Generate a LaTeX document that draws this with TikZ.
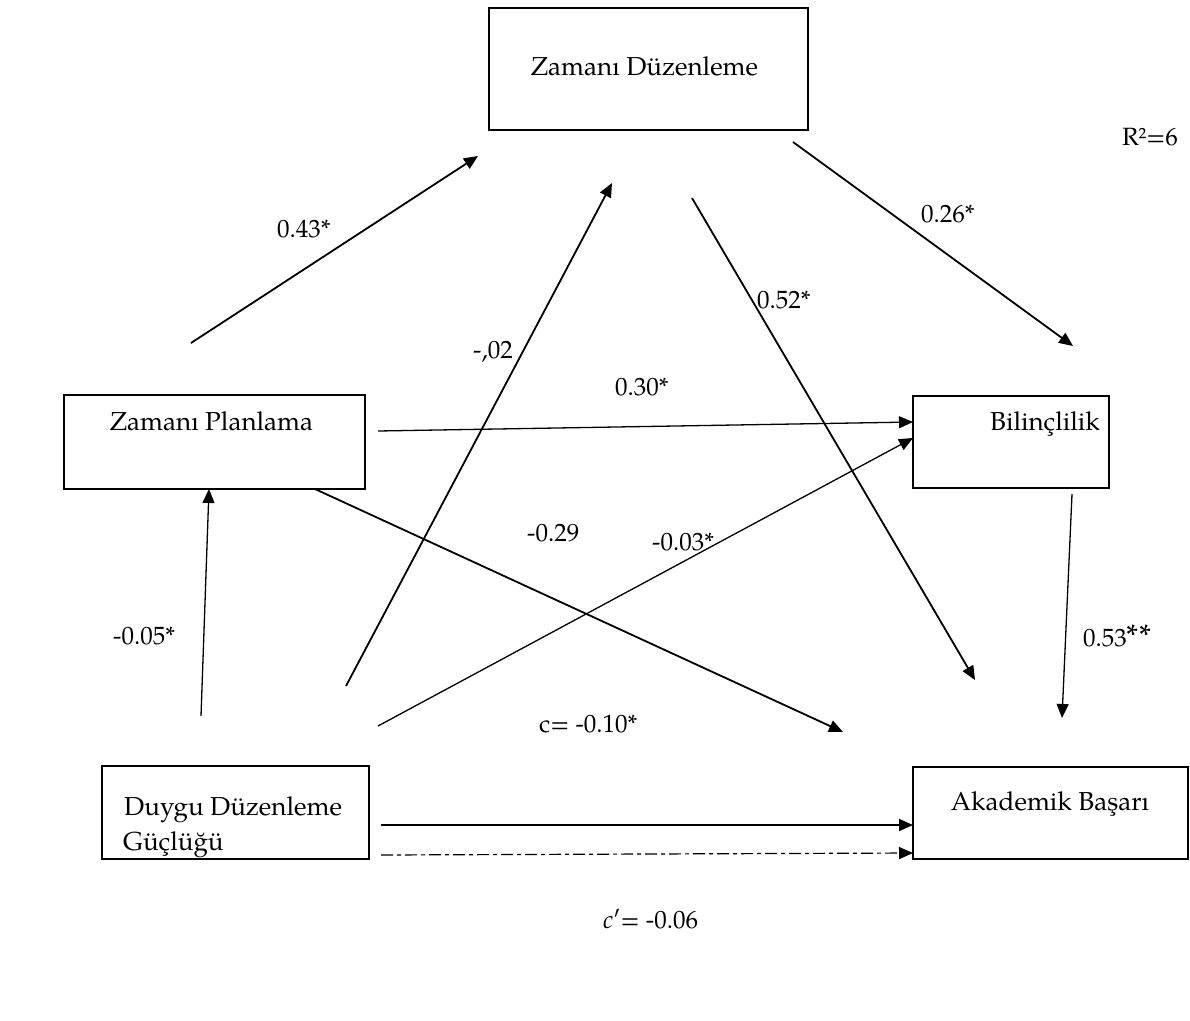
\documentclass[tikz,border=0pt]{standalone}
\usepackage{fontspec}
\setmainfont{TeX Gyre Pagella}
\usetikzlibrary{arrows.meta}
\begin{document}
\begin{tikzpicture}[x=1pt,y=-1pt,
  box/.style={draw, line width=1.8pt, inner sep=0pt},
  txt/.style={font=\fontsize{26}{31}\selectfont, inner sep=0pt},
  lbl/.style={font=\fontsize{25}{30}\selectfont, inner sep=0pt},
  tip/.style={-{Triangle[length=14pt,width=12pt]}},
  arr/.style={tip, line width=1.8pt},
  thinarr/.style={tip, line width=1.3pt},
  dashdot/.style={tip, line width=1.2pt, dash pattern=on 12pt off 4pt on 4pt off 4pt}]
\fill[white] (0,0) rectangle (1190,1020);
\useasboundingbox (0,0) rectangle (1190,1020);

% boxes
\node[box, minimum width=319pt, minimum height=122pt] (zd) at (648.5,69) {};
\node[box, minimum width=301pt, minimum height=94pt] (zp) at (214.5,442) {};
\node[box, minimum width=196pt, minimum height=92pt] (bil) at (1011,442) {};
\node[box, minimum width=267pt, minimum height=93pt] (ddg) at (235.5,812.5) {};
\node[box, minimum width=275pt, minimum height=92pt] (ab) at (1050.5,813) {};

% box texts
\node[txt, anchor=base] (zdt) at (644.5,75) {Zamanı Düzenleme};
\node[txt, anchor=base] (zpt) at (211.5,430) {Zamanı Planlama};
\node[txt, anchor=base west] (bilt) at (990,430) {Bilinçlilik};
\node[txt, anchor=base west] (ddgt1) at (124,815) {Duygu Düzenleme};
\node[txt, anchor=base west] (ddgt2) at (123,850) {Güçlüğü};
\node[txt, anchor=base] (abt) at (1050,810) {Akademik Başarı};

% endpoints
\coordinate (a1s) at (191,343);  \coordinate (a1e) at (478,156);
\coordinate (a2s) at (346,686);  \coordinate (a2e) at (612,183);
\coordinate (a3s) at (692,198);  \coordinate (a3e) at (975,680);
\coordinate (a4s) at (793,142);  \coordinate (a4e) at (1073,346);
\coordinate (a5s) at (378,431);  \coordinate (a5e) at (913,422);
\coordinate (a6s) at (378,726);  \coordinate (a6e) at (913,438);
\coordinate (a7s) at (315,489);  \coordinate (a7e) at (843,732);
\coordinate (a8s) at (201,716);  \coordinate (a8e) at (209,489);
\coordinate (a9s) at (1072,494); \coordinate (a9e) at (1062,718);
\coordinate (a10s) at (381,825); \coordinate (a10e) at (913,825);
\coordinate (a11s) at (381,855); \coordinate (a11e) at (913,853);

% connectors
\draw[arr] (a1s) -- (a1e);
\draw[arr] (a2s) -- (a2e);
\draw[arr] (a3s) -- (a3e);
\draw[arr] (a4s) -- (a4e);
\draw[thinarr] (a5s) -- (a5e);
\draw[thinarr] (a6s) -- (a6e);
\draw[arr] (a7s) -- (a7e);
\draw[thinarr] (a8s) -- (a8e);
\draw[thinarr] (a9s) -- (a9e);
\draw[arr] (a10s) -- (a10e);
\draw[dashdot] (a11s) -- (a11e);

% labels
\node[lbl, anchor=base west] (l1) at (277,237) {0.43*};
\node[lbl, anchor=base west] (l2) at (1122,145) {R²=6};
\node[lbl, anchor=base west] (l3) at (921,222) {0.26*};
\node[lbl, anchor=base west] (l4) at (757,308) {0.52*};
\node[lbl, anchor=base west] (l5) at (473,358) {-,02};
\node[lbl, anchor=base west] (l6) at (615,395) {0.30*};
\node[lbl, anchor=base west] (l7) at (527,541) {-0.29};
\node[lbl, anchor=base west] (l8) at (652,550) {-0.03*};
\node[lbl, anchor=base west] (l9) at (113,644) {-0.05*};
\node[lbl, anchor=base west] (l10) at (1083,646) {0.53{\fontsize{31}{31}\selectfont**}};
\node[lbl, anchor=base west] (l11) at (539,732) {c= -0.10*};
\node[lbl, anchor=base west] (l12) at (603,928) {\textit{c′}= -0.06};
\end{tikzpicture}
\end{document}
